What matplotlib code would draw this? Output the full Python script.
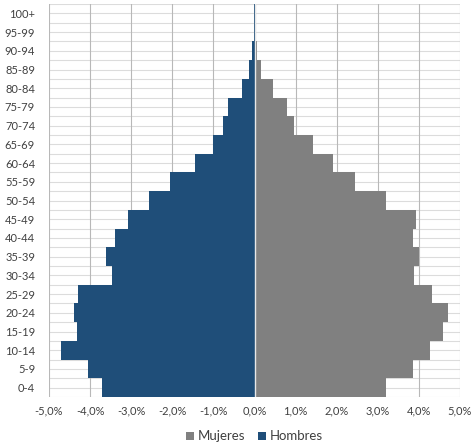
import numpy as np
import matplotlib.pyplot as plt

# Datos (porcentaje de población por grupo de edad)
grupos = ["0-4", "5-9", "10-14", "15-19", "20-24", "25-29", "30-34", "35-39",
          "40-44", "45-49", "50-54", "55-59", "60-64", "65-69", "70-74",
          "75-79", "80-84", "85-89", "90-94", "95-99", "100+"]
hombres = [3.70, 4.04, 4.71, 4.33, 4.39, 4.29, 3.46, 3.62, 3.39, 3.09, 2.56,
           2.06, 1.44, 1.00, 0.77, 0.64, 0.30, 0.14, 0.05, 0.02, 0.01]
mujeres = [3.21, 3.85, 4.27, 4.59, 4.72, 4.31, 3.88, 4.01, 3.85, 3.94, 3.21,
           2.44, 1.91, 1.42, 0.95, 0.79, 0.45, 0.15, 0.05, 0.03, 0.02]
ticks_x = [-5, -4, -3, -2, -1, 0, 1, 2, 3, 4, 5]

plt.rcParams['font.family'] = ['Lato', 'DejaVu Sans']

fig = plt.figure(figsize=(4.72, 4.45), dpi=100)
ax = fig.add_axes([49 / 472, 1 - 397 / 445, 411 / 472, 393 / 445])

y = np.arange(len(grupos))

# Rejilla horizontal (cada medio grupo)
for yy in np.arange(-0.5, len(grupos), 0.5):
    ax.axhline(yy, color="#dcdcdc", lw=0.8, zorder=0)

ax.barh(y, mujeres, height=1.0, color="#808080", label="Mujeres", zorder=2)
ax.barh(y, [-h for h in hombres], height=1.0, color="#1f4e79", label="Hombres", zorder=2)
ax.axvline(0, color="#e8e8e8", lw=1.0, zorder=3)

ax.set_xlim(-5, 5)
ax.set_ylim(-0.5, len(grupos) - 0.5)
ax.set_xticks(ticks_x)
ax.set_xticklabels([f"{t:.1f}%".replace(".", ",") for t in ticks_x])
ax.set_yticks(y)
ax.set_yticklabels(grupos)
ax.tick_params(axis="both", length=0, labelsize=8, labelcolor="#404040")
ax.tick_params(axis="y", pad=10)
ax.tick_params(axis="x", pad=6)

ax.xaxis.grid(True, color="#b8b8b8", lw=0.8)
ax.set_axisbelow(True)
for s in ax.spines.values():
    s.set_visible(False)

ax.legend(loc="upper center", bbox_to_anchor=(0.5, -0.055), ncol=2, frameon=False,
          fontsize=9.5, handlelength=0.6, handleheight=0.6, handletextpad=0.3,
          columnspacing=1.0, labelcolor="#404040")

fig.savefig("out.png", dpi=100, facecolor="white")
